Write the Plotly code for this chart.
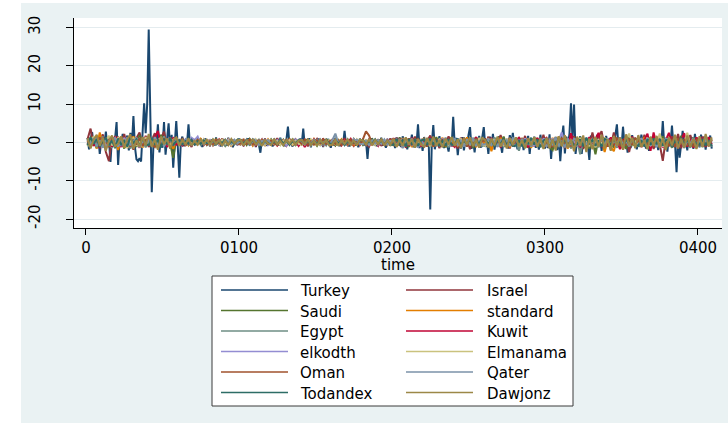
import plotly.graph_objects as go

# ---- axis text -------------------------------------------------------------
time_title = "time"
x_tick_values = [0, 100, 200, 300, 400]
x_tick_labels = ["0", "0100", "0200", "0300", "0400"]
y_tick_values = [-20, -10, 0, 10, 20, 30]
y_tick_labels = ["-20", "-10", "0", "10", "20", "30"]

series_names = ["Turkey", "Israel", "Saudi", "standard", "Egypt", "Kuwit",
                "elkodth", "Elmanama", "Oman", "Qater", "Todandex", "Dawjonz"]

# ---- Turkey: every period ----------------------------------------------------
turkey = [
    1.2, -1.8, .8, 2.7, -.5, 1.1, -.9, 1.6, -3.0, .4,
    1.9, -.6, 2.8, -1.2, .7, -5.1, 1.3, -.4, .9, 5.3,
    -5.9, 1.1, -.3, 2.2, -1.4, .6, 1.8, -2.1, 2.5, -.7,
    6.9, -1.2, -4.4, -4.9, -4.1, -5.0, 1.2, 10.2, 2.4, 10.0,
    29.5, 2.0, -13.0, -1.5, 1.8, -.8, 4.7, -2.6, .9, -1.4,
    5.3, -3.2, 1.0, 5.0, -1.6, 2.0, -6.6, .5, 5.6, -1.2,
    -9.2, .3, 1.5, -1.0, .8, -.5, 4.7, -.8, .6, -.4,
    .5, -.7, 1.1, -.3, .8, -1.2, .4, 1.0, -.6, .3,
    -1.0, .7, .2, -.8, 1.3, -.5, .6, -1.1, .9, -.2,
    .4, -.9, 1.2, -.4, .7, -1.3, .5, .1, -.7, 1.0,
    -.3, .8, -1.0, .6, -.5, 1.1, -.8, .3, -.4, .9,
    -1.2, .5, -.6, -2.7, .8, -.3, 1.0, -.9, .4, -.5,
    .7, -1.1, .9, -.2, .5, -.8, 1.2, -.4, .6, -1.0,
    .8, 4.1, -.6, .3, -1.1, .9, -.4, .6, -.8, 1.0,
    -.5, 3.6, -.9, .4, -.7, 1.1, -1.3, .5, -.3, .8,
    -.6, 1.0, -.9, .4, -1.2, .7, -.5, .9, -.2, -1.4,
    .6, -.8, 1.2, -.3, .5, -1.0, .8, -.6, 3.0, -.7,
    .4, -1.1, .9, -.3, .7, -.9, .5, -1.3, 1.0, -.4,
    .6, -.8, .3, -4.3, .9, -.5, 1.1, -.7, .4, -1.0,
    .8, -.3, 1.2, -.9, .5, -1.4, .7, -.2, 1.0, -.6,
    .9, -1.5, 1.3, -.7, .4, -1.2, 1.6, -.9, .6, -1.8,
    1.1, -.4, 2.0, -1.3, .8, -.6, 4.7, -1.5, .9, -2.2,
    1.4, -.7, .5, .3, -17.5, -.4, 4.5, -1.8, .9, -.5,
    1.6, -1.1, .7, -1.5, 1.2, -.3, -2.4, 1.0, -.8, 6.7,
    -.6, 1.2, -3.3, .8, -1.6, 1.4, -2.1, .5, -1.0, 1.9,
    4.0, -1.7, .6, -2.6, 1.3, -.9, 1.7, -1.4, .8, 4.0,
    -1.2, .5, -3.0, 1.5, -.8, 2.2, -1.9, .7, -1.1, 1.6,
    -.5, -2.7, 1.3, -1.0, .8, -1.6, 1.9, -.4, 2.5, -1.2,
    .9, -1.8, 1.4, -.6, 1.0, -2.0, .6, -1.3, 1.7, -3.0,
    1.1, -.8, 1.5, -1.4, .4, -1.9, 2.0, -.7, 1.2, -1.6,
    .8, -1.5, 2.1, -4.3, 1.0, -1.2, .6, -2.0, 1.4, -4.9,
    .9, 4.4, -2.9, 1.5, -.8, 2.3, 10.2, .5, 9.9, -3.0,
    .7, -1.1, 1.6, -3.0, .9, -1.4, 1.2, -.5, -4.6, 1.8,
    -1.0, .6, -1.7, 2.0, -.8, 1.3, -2.2, .9, -1.2, 1.7,
    -.6, 1.1, -1.9, .8, -1.0, 2.2, 4.7, -.9, .5, -1.3,
    4.1, -.7, 1.0, -2.7, .6, -1.5, 1.9, -.9, 1.2, -1.8,
    .7, -1.2, 2.0, -.6, 1.1, -1.6, .9, -2.2, 1.4, -.8,
    1.6, -1.3, .8, -2.0, 1.2, -.7, 5.6, -1.0, .9, -2.4,
    1.3, -.5, 4.4, -1.2, -.3, -7.8, 1.0, -4.0, .6, 3.0,
    -1.5, 1.1, -2.1, 1.8, -.9, 1.4, -1.7, 2.2, -.6, 1.0,
    -1.3, 2.0, -.8, 1.5, -1.9, 1.2, -.5, 1.8, -1.6,
]

# ---- the other markets: every second period -------------------------------
israel = [
    .8, 3.6, -.9, 1.4, -.3, 2.1, -2.5, -4.9, 1.2, -1.0,
    1.5, -.7, 2.2, -1.4, .5, -1.9, 1.1, 2.6, -.8, 1.7,
    -1.2, .6, 2.4, -1.6, 1.0, 2.8, -.9, .4, -1.5, 1.3,
    -.6, 1.1, -.9, .5, -1.2, .8, -.4, 1.0, -.7, .3,
    .6, -.8, .4, -.5, 1.0, -.3, .7, -1.0, .5, -.2,
    -.6, .9, -.4, .3, -.8, .6, -.2, .8, -.9, .4,
    .5, -.7, 1.1, -.4, .2, -.9, .6, -.3, .8, -.6,
    -.3, .7, -1.0, .5, -.2, .9, -.6, 1.0, -.5, .3,
    .4, -.8, .6, -.3, 1.1, -.7, .2, -.9, .5, -.4,
    .7, -.2, -1.1, .6, -.5, .8, -.9, .3, -.6, 1.0,
    -.8, 1.2, -.5, .9, -1.4, .6, -.3, 1.5, -1.0, .7,
    -1.3, .4, 1.8, -.9, .6, -1.5, 1.1, -.4, 1.6, -1.1,
    .8, -1.6, 1.2, -.5, .9, -1.8, .5, 1.4, -1.2, .6,
    -.9, 1.5, -1.3, .7, -.4, 1.9, -1.1, .8, -1.6, 1.0,
    -.5, 1.3, -.8, 1.7, -1.4, .6, -1.0, 1.2, -.7, 2.0,
    -1.2, .9, -1.8, 1.4, -.6, 2.1, -1.5, .8, -1.1, 1.6,
    -.9, 1.2, -1.7, .7, -1.3, 2.6, -.8, 1.5, 2.9, -1.4,
    .6, -1.0, 2.6, -.7, 1.3, -1.9, .9, -2.5, 1.2, -.8,
    1.4, -.6, 2.0, -1.3, .8, -1.7, 1.1, -.5, -4.8, .9,
    -1.0, 1.6, -.4, 2.2, -1.5, .7, -1.1, 1.9, -.9, 1.3,
    -.6, 1.5, -1.2, .8, 1.1,
]
saudi = [
    -.6, 1.2, .4, -1.5, 1.8, -.3, .9, -1.1, .5, 1.4,
    -.9, .3, -1.6, 1.0, -.4, .7, -1.2, 1.9, -.5, .2,
    1.1, -.8, .6, -1.3, 2.0, -.4, .8, -.2, -4.0, .9,
    -.5, .7, -.3, .9, -.6, .2, .8, -.4, .5, -.7,
    .3, -.6, .8, -.2, .5, -.9, .4, .6, -.3, .7,
    -.4, .5, -.7, .9, -.2, .4, -.8, .3, .6, -.5,
    .8, -.3, .4, -.6, .7, -.5, .9, -.2, -.7, .5,
    -.6, .4, .8, -.5, .3, -.9, .6, -.4, .7, -.3,
    .5, -.8, .3, .7, -.4, .6, -.6, .9, -.2, .4,
    -.7, .5, -.3, .8, -.6, .2, .7, -.5, .4, -.9,
    1.0, -.6, 1.3, -.9, .4, -1.2, .8, -.5, 1.1, -.7,
    .6, -1.1, .9, -.4, 1.4, -.8, .5, -1.3, .7, 1.2,
    -1.0, .5, -.7, 1.2, -.3, .9, -1.4, .6, -.5, 1.0,
    .8, -1.2, .4, -.9, 1.1, -.6, 1.5, -1.0, .3, -.7,
    1.2, -.5, .9, -1.4, .6, -.8, 1.3, -1.1, .7, -.4,
    .9, -1.3, -2.0, 1.1, -.7, 1.6, -1.0, .5, -1.5, 1.2,
    -.8, 1.4, -.5, .9, -1.6, .7, -3.1, 1.0, -.6, 1.3,
    -1.1, .6, -1.4, 1.2, -.4, .8, -1.7, 1.5, -.9, .4,
    1.1, -.7, .5, -1.5, 1.3, -.3, .9, -1.2, 1.6, -.8,
    .6, -1.4, 1.0, -.5, 1.7, -1.1, .4, -.9, 1.3, -.6,
    .8, -1.2, 1.1, -.4, .6,
]
standard = [
    .5, -.9, 1.4, -1.6, 2.6, -.4, 1.1, -.7, .3, 1.2,
    -2.0, .8, -1.3, .4, -.9, 1.6, -.6, 1.0, -1.4, .7,
    1.5, -.5, .9, -1.1, .4, 1.3, -.8, .6, -1.7, .3,
    .7, -.4, .5, -.8, .3, .6, -.5, .9, -.2, .4,
    -.5, .3, .7, -.6, .4, -.2, .8, -.7, .3, -.4,
    .6, -.5, .2, .7, -.8, .4, -.3, .5, -.6, .8,
    -.3, .6, -.7, .4, .2, -.5, .8, -.6, .3, -.2,
    .5, -.8, .3, -.4, .9, -.3, .4, -.7, .6, .2,
    -.6, .4, -.2, .8, -.5, .3, .6, -.9, .4, -.3,
    .7, -.4, .5, -.6, .3, -.8, .5, .2, -.7, .6,
    -.9, .7, -.4, 1.1, -.8, .5, -1.2, .9, -.3, .6,
    1.0, -.7, .4, -1.1, .8, -.5, 1.2, -.9, .3, -.6,
    .5, -1.0, .9, -.4, 1.3, -.8, .6, -1.2, .4, .9,
    -.7, 1.1, -2.3, .6, -.9, 1.2, -.5, .8, -1.3, .4,
    .9, -.6, 1.1, -1.0, .5, -1.4, .7, -.3, 1.0, -.8,
    .6, -1.3, 1.2, -.7, 1.5, -.9, .4, -1.6, .8, -.5,
    1.1, -.8, .6, -1.5, .9, -.4, 1.3, -1.0, .5, -2.5,
    .7, -1.2, -2.3, .9, -1.6, .5, 1.2, -.8, .4, -1.1,
    .9, -.5, 1.4, -1.3, .6, -.9, 1.1, -.4, .8, -1.5,
    1.2, -.7, .5, -1.1, .9, -.6, 1.3, -1.0, .4, -1.5,
    .6, -.9, 1.0, -.5, .8,
]
egypt = [
    1.0, -.5, .7, -1.2, .4, 1.5, -.8, .3, -1.4, .9,
    -.7, 1.3, -.4, .8, -1.6, .5, 1.1, -.9, .6, -1.3,
    .4, 1.0, -1.1, .7, -.5, 1.6, -1.0, .3, .8, -.6,
    .5, -.3, .8, -.6, .4, -.2, .6, -.7, .3, .5,
    -.4, .7, -.5, .3, .6, -.8, .2, .5, -.6, .4,
    .3, -.6, .8, -.4, .5, -.3, .7, -.9, .4, -.2,
    -.5, .8, -.3, .6, -.7, .4, -.4, .9, -.6, .3,
    .6, -.4, .5, -.8, .3, .7, -.5, .2, -.8, .6,
    -.3, .5, -.7, .4, -.2, .8, -.6, .5, -.4, .7,
    .4, -.7, .6, -.3, .8, -.5, .3, -.6, .9, -.4,
    .7, -1.0, .5, -.6, 1.2, -.8, .4, -.3, .9, -1.1,
    -.5, .8, -1.2, .6, -.4, 1.0, -.9, .5, -1.3, .7,
    .9, -.4, .6, -1.1, .8, -.6, 1.2, -.7, .3, -1.0,
    -.6, .9, -.8, 1.3, -.4, .7, -1.2, .5, -.9, 1.1,
    .5, -2.2, .8, -.5, 1.0, -1.1, .4, -.7, 1.2, -.6,
    -.9, 1.1, -.6, 1.4, -1.2, .7, -.4, 1.0, -1.5, .6,
    .8, -3.1, .5, -.9, 1.2, -.7, .6, -1.3, .9, -.5,
    1.0, -.8, .4, -1.4, .7, -.6, 1.3, -1.0, .5, -.9,
    -.7, 1.2, -1.0, .6, -.5, 1.4, -1.1, .8, -.4, 1.0,
    .5, -1.2, .9, -.6, 1.1, -.8, .6, -1.4, 1.0, -.3,
    -.8, 1.0, -.5, .9, -1.1,
]
kuwit = [
    -.4, 1.1, -.9, .6, -1.5, 1.3, -.2, .8, -1.1, 1.6,
    .5, -1.2, .9, -.6, 1.7, -1.0, .4, -1.4, .7, 1.2,
    -.8, .6, 1.3, 3.0, -.5, .9, -1.2, .4, 1.1, -.7,
    .4, -.8, .5, -.3, .7, -.5, .2, .6, -.4, .3,
    -.7, .5, -.2, .8, -.4, .3, -.6, .7, -.3, .5,
    .4, -.7, .6, -.3, .5, -.8, .3, -.5, .7, -.2,
    -.4, .6, -.8, .3, .5, -.6, .7, -.3, .4, -.9,
    .3, -1.2, .6, -.4, .8, -.5, .3, -.7, .5, -.6,
    .7, -.3, .4, -.8, .6, -.2, .9, -.5, .3, -.7,
    .5, -.6, .8, -.4, .3, -.9, .6, -.3, .7, -.5,
    1.1, -.6, .9, -1.3, .5, -.8, 1.2, -.4, .7, -1.0,
    .4, -.9, 1.3, -.6, .8, -1.1, .5, -.7, 1.0, -.4,
    -1.2, .7, -.5, 1.1, -.9, .6, -.3, 1.3, -1.0, .5,
    .8, -.6, 1.2, -1.0, .4, -1.3, .9, -.5, 1.1, -.8,
    -.7, 1.4, -.9, .5, -1.2, .8, -.4, 1.1, -.9, .6,
    1.2, -.8, .5, -1.4, 1.0, -.6, 1.5, -1.1, 2.4, -.9,
    .6, -1.3, 1.1, -.7, 1.4, -1.0, .8, 2.5, -1.2, .7,
    -1.0, 1.3, -.6, 1.0, -1.8, .5, 1.2, -.9, 1.5, -.7,
    .9, -1.2, .6, 2.3, -2.2, 2.6, -.8, 1.1, -1.3, .7,
    2.5, -.9, 1.2, -1.5, .6, 2.4, -1.1, .8, -1.4, 1.3,
    -.7, 1.1, -.9, 1.4, -.5,
]
elkodth = [
    .6, -.8, .3, 1.0, -.5, .7, -1.1, .4, .9, -.6,
    .3, -.9, 1.2, -.4, .6, -.7, .2, 1.0, -.5, .8,
    -.6, 1.1, -.3, .5, -1.0, .7, -.4, .9, -.8, .4,
    .5, -.4, .7, -.2, 1.2, .6, 1.5, -.3, .8, -.5,
    .6, -.3, .5, -.7, .4, -.2, .7, -.5, .3, -.6,
    .4, -.5, .3, -.6, .8, -.3, .5, -.4, .6, -.7,
    .3, -.4, .6, -.5, .2, -.8, .5, -.3, .7, -.4,
    .6, -.5, .3, -.7, .4, -.2, .8, -.6, .3, -.5,
    -.4, .7, -.3, .5, -.6, .4, -.5, .8, -.3, .6,
    .5, -.4, .6, -.3, .4, -.7, .3, -.5, .7, -.2,
    -.6, .8, -.4, .7, -.9, .5, -.7, .4, -1.3, .6,
    .8, -.5, .6, -.9, .4, -.7, 1.0, -.3, .6, -.8,
    -.5, .9, -.7, .4, -.6, 1.1, -.4, .7, -.9, .5,
    .6, -.8, .9, -.4, .7, -1.0, .5, -.6, .8, -.4,
    -.7, .5, -.4, 1.0, -.6, .8, -.9, .4, -.5, .9,
    .7, -.6, 1.0, -.8, .5, 2.6, -.5, .9, -.7, .4,
    -.8, .6, -.5, 1.1, -.9, .7, -.4, .8, -1.0, .5,
    .9, -.7, .4, -1.0, .6, -.5, 1.1, -.8, .7, -.4,
    -.6, 1.0, -.8, .5, -.7, .9, -.5, .6, -1.1, .8,
    .7, -.5, .9, -.9, .4, -.6, 1.0, -.7, .5, -.8,
    .6, -.4, .8, -.7, .5,
]
elmanama = [
    -1.0, .7, 1.4, -.6, .9, -1.3, .5, 1.7, -.8, .3,
    1.2, -.5, .8, -1.5, .4, 1.1, -.9, .6, -1.2, 1.4,
    -.4, .9, -1.3, .6, 1.2, -.7, .3, -1.0, .7, 1.1,
    -.6, .4, -.3, .7, -.5, .3, .6, -.4, .8, -.3,
    .5, -.6, .3, -.4, .7, -.3, .5, -.8, .4, .2,
    -.5, .7, -.3, .4, -.6, .8, -.4, .3, -.7, .5,
    .6, -.4, .3, -.7, .5, -.2, .6, -.5, .4, -.3,
    -.6, .5, -.3, .8, -.4, .3, -.7, .5, -.2, .6,
    .4, -.5, .7, -.3, .4, -.6, .3, -.4, .8, -.5,
    -.3, .6, -.5, .4, -.7, .5, -.2, .7, -.4, .3,
    .6, -.9, .4, -.7, 1.0, -.5, .8, -1.1, .3, -.6,
    -.8, .5, -1.0, .9, -.4, .7, -.6, 1.1, -.5, .4,
    .7, -.6, 1.0, -.8, .5, -.4, .9, -.7, 1.2, -.5,
    -.9, .6, -.5, .8, -1.1, .4, -.7, 1.0, -.6, .9,
    .6, -.8, .4, -1.0, .7, -.5, 1.1, -.6, .4, -.9,
    1.0, -.7, .5, -1.2, .8, -.4, 1.3, -.9, .6, -1.1,
    -.6, 1.2, -.8, .5, -1.0, .9, -1.3, .6, -.4, 1.1,
    .7, -.9, 1.3, -.6, .8, -1.2, .5, 2.3, -.7, .4,
    -1.1, .8, -.5, 1.2, -.9, .6, -.7, 2.3, -1.0, .5,
    .9, -.6, 1.1, -1.2, .7, -.4, 2.5, -.8, .6, -1.0,
    .5, -.7, 1.2, -.6, .9,
]
oman = [
    .4, -1.0, .8, -.5, 1.3, -.8, .6, -1.2, 1.0, -.4,
    -.8, 1.4, -.3, .9, -1.1, .5, -.6, 1.2, -1.0, .6,
    .9, -.4, -1.2, .8, -.6, 1.0, -.5, 1.3, -.9, .5,
    -.4, .6, -.7, .3, .5, -.4, .7, -.2, .4, -.6,
    .3, -.5, .6, -.2, -.7, .5, -.4, .3, .6, -.5,
    -.3, .6, -.4, .7, -.5, .3, .5, -.6, .2, -.4,
    .5, -.3, -.6, .4, -.5, .7, -.3, .4, -.6, .5,
    -.4, .7, -.5, .3, -.6, .5, -.3, .8, -.4, .3,
    .6, -.4, .5, -.7, .3, -.5, .7, -.3, .5, -.6,
    .8, 2.9, 1.8, -.3, .6, -.5, .4, -.7, .5, -.3,
    -.5, .8, -.9, .5, -.4, 1.0, -.7, .6, -1.0, .4,
    .7, -.6, .9, -1.1, .5, -.4, .8, -.9, .6, -.5,
    -.8, .6, -.4, .9, -1.1, .7, -.5, 1.0, -.6, .4,
    .5, -.9, .7, -.5, 1.0, -.8, .4, -1.2, .6, -.7,
    .8, -.4, 1.1, -.7, .5, -.9, .6, -.4, 1.0, -1.1,
    -.5, .9, -1.1, .6, -.8, 1.2, -.6, .4, -1.0, .8,
    .7, -.5, 1.1, -.9, .6, -1.2, .5, -.7, 1.3, -.6,
    -.9, .6, -.4, 1.2, -1.0, .5, -.8, 1.0, -.6, 1.1,
    .5, -1.0, .8, -.6, 1.1, -.4, .9, -1.3, .6, -.5,
    -.8, .7, -1.2, 1.0, -.5, .8, -.9, .4, -1.1, .7,
    .9, -.6, .5, -1.0, .7,
]
qater = [
    .7, -.3, 1.1, -.9, .5, -1.4, 1.0, -.6, .4, 1.2,
    -1.1, .6, -.5, 1.3, -.8, .4, 1.0, -1.3, .7, -.4,
    .5, -.9, 1.4, -.6, .8, -1.1, .6, .9, -.5, .7,
    .4, -.5, .3, .8, -.6, .4, -.3, .6, -.5, .2,
    -.6, .4, -.3, .5, -.8, .6, .3, -.4, .7, -.3,
    .5, -.4, .7, -.6, .3, .5, -.7, .4, -.3, .6,
    -.4, .5, -.3, .8, -.6, .3, -.5, .6, -.4, .7,
    .3, -.6, .5, -.3, .7, -.5, .4, -.2, .6, -.8,
    .6, 2.3, -.4, .5, -.7, .3, -.6, .4, .7, -.4,
    -.5, .4, -.7, .5, -.3, .6, -.4, .8, -.6, .3,
    .5, -.7, .9, -1.5, .6, -.4, 1.0, -.8, -1.2, .7,
    -.6, 1.0, -.5, .8, -1.0, .4, -.7, 1.2, -.6, .5,
    .9, -.7, .5, -1.0, .6, -.5, 1.1, -.9, .4, -.6,
    -.5, 1.0, -.7, .4, -1.2, .8, -.4, .6, -.9, 1.1,
    .7, -.5, .9, -.8, .4, -1.1, .6, -.7, .9, -.4,
    -1.0, .6, -.5, 1.2, -.9, .4, -1.3, .8, -.6, 1.0,
    .5, -.9, 1.1, -.6, .7, -1.0, .4, -.8, 1.2, -.5,
    .8, -1.1, .6, -.5, 1.3, -.7, .4, -1.0, .9, -.6,
    -.7, .9, -.4, 1.1, -.8, .5, -1.2, .7, -.5, 1.0,
    .6, -.8, 1.0, -.6, .9, -1.3, .5, -.4, 1.2, -.9,
    .4, -.8, .7, -.5, 1.0,
]
todandex = [
    -.8, 1.3, -.4, .9, -1.2, .6, 1.1, -.7, .5, -1.5,
    1.0, -.6, .4, -1.1, 1.5, -.3, .8, -.9, 1.2, -.5,
    -.7, 1.2, -.4, .6, -1.3, .9, -.5, 1.1, -.6, .3,
    .6, -.5, .4, -.3, .7, -.6, .3, -.4, .5, -.2,
    -.3, .6, -.5, .4, -.2, .7, -.6, .3, -.4, .6,
    .4, -.3, .6, -.5, .7, -.4, .3, -.6, .5, -.3,
    -.6, .4, -.5, .7, -.3, .5, -.7, .4, -.2, .6,
    .5, -.3, .4, -.6, .3, -.4, .6, -.5, .7, -.3,
    -.4, .6, -.3, .5, -.7, .4, -.5, .3, -.6, .5,
    .6, -.5, .3, -.4, .7, -.3, .5, -.6, .4, -.5,
    -.7, .9, -.5, .6, -1.0, .8, -.4, .7, -.9, .5,
    .8, -.7, 1.1, -.5, .6, -1.0, .4, -.8, .9, -.6,
    -.6, 1.0, -.8, .5, -.4, .9, -1.0, .6, -.5, 1.1,
    .7, -.5, .8, -1.1, .6, -.4, 1.0, -.7, .5, -.9,
    -.8, .6, -1.0, .7, -.5, 1.2, -.6, .8, -1.3, .5,
    .9, -1.2, .6, -.7, 1.1, -.5, .8, -1.0, .5, -.8,
    -.6, .8, -1.0, 1.2, -.5, .7, -.9, .5, -1.1, .9,
    .6, -.8, 1.0, -.6, .5, -1.3, .9, -.4, 1.1, -.7,
    -.9, .5, -1.1, .8, -.6, 1.0, -.5, .9, -.8, .6,
    .7, -1.0, .5, -.7, 1.2, -.5, .8, -1.1, .6, -.4,
    -.6, .9, -.8, .6, -.9,
]
dawjonz = [
    1.1, -1.6, .7, 2.0, -.9, 1.3, -2.2, .5, 1.8, -1.0,
    -.4, 1.6, -1.3, .9, 2.1, -1.7, .6, -1.1, 1.4, -.8,
    2.2, -1.2, .8, -1.9, 1.5, -.5, 1.0, -1.6, .6, 1.3,
    -.9, .7, -.5, 1.0, -.8, .4, -.6, .9, -.4, .7,
    -.6, .8, -.4, .6, -.9, .5, -.7, .9, -.3, .5,
    .7, -.8, .5, -.4, .9, -.6, .4, -.9, .6, -.3,
    -.7, .9, -.5, .4, -.8, .6, -.3, .8, -.6, .5,
    .6, -.5, .8, -.7, .4, -.9, .7, -.4, .6, -.8,
    -.5, .7, -.9, .6, -.4, .8, -.6, .5, -.8, .7,
    .5, -.6, .9, -.7, .6, -.4, .8, -.8, .5, -.6,
    1.0, -1.2, .7, -.9, 1.3, -.6, .9, -1.4, .8, -.5,
    -1.1, 1.2, -.7, 1.5, -.9, .6, -1.3, 1.0, -.5, 1.4,
    -.9, .8, -1.5, 1.1, -.6, 1.3, -1.0, .7, -1.4, 1.2,
    .6, -1.3, 1.0, -.8, 1.5, -1.1, .7, -1.6, 1.2, -.7,
    1.3, -1.0, .6, -1.5, 1.1, -.8, 1.4, -1.2, .9, -1.7,
    1.2, -1.5, .8, -2.1, 1.6, -1.0, 1.9, -1.4, .7, -2.3,
    1.5, -.9, 1.8, -2.5, 1.0, -1.8, 1.4, -1.1, 2.0, -1.6,
    .8, -2.2, 1.7, -1.0, 1.3, -1.9, 2.1, -.8, 1.2, -1.5,
    1.9, -1.2, .6, -1.8, 1.5, -.9, 1.7, -1.4, 1.1, -2.0,
    1.4, -.8, 2.0, -1.6, 1.0, -1.3, 1.8, -1.1, .9, -1.7,
    1.6, -1.2, 2.2, -1.0, 1.3,
]

series_values = [turkey, israel, saudi, standard, egypt, kuwit,
                 elkodth, elmanama, oman, qater, todandex, dawjonz]
series_colors = ["#1a476f", "#90353b", "#55752f", "#e37e00", "#6e8e84", "#c10534",
                 "#938dd2", "#cac27e", "#a0522d", "#7b92a8", "#2d6d66", "#9c8847"]
series_step = [1] + [2] * 11  # Turkey is daily, the rest every second period

# ---- page geometry (pixels) -----------------------------------------------
W, H = 728, 423
ML, MR, MT, MB = 74, 6, 18, 195
PW, PH = W - ML - MR, H - MT - MB
FONT = "DejaVu Sans"
BG = "#eaf2f3"


def fx(px):
    return (px - ML) / PW


def fy(py):
    return (H - MB - py) / PH


fig = go.Figure()
for name, values, color, step in zip(series_names, series_values, series_colors, series_step):
    periods = list(range(1, step * len(values) + 1, step))
    fig.add_trace(go.Scatter(
        x=periods, y=values, name=name, mode="lines",
        line=dict(color=color, width=2), showlegend=False,
        hoverinfo="skip",
    ))

shapes = [
    # white margin strips outside the graph region
    dict(type="rect", xref="paper", yref="paper", x0=fx(0), x1=fx(21), y0=fy(0), y1=fy(H),
         fillcolor="white", line=dict(width=0), layer="below"),
    dict(type="rect", xref="paper", yref="paper", x0=fx(0), x1=fx(W), y0=fy(0), y1=fy(3),
         fillcolor="white", line=dict(width=0), layer="below"),
    # legend frame
    dict(type="rect", xref="paper", yref="paper", x0=fx(212), x1=fx(573), y0=fy(406), y1=fy(276),
         fillcolor="white", line=dict(color="#3a3a3a", width=1)),
]

# x-axis title, set just under the tick labels
annotations = [dict(xref="paper", yref="paper", x=0.5, y=fy(254), text=time_title,
                    showarrow=False, xanchor="center", yanchor="top",
                    font=dict(family=FONT, size=15, color="black"))]

line_x = [221, 406]
line_len = 67
text_x = [298, 485]
row_y0, row_gap = 290, 20.5
for i, (name, color) in enumerate(zip(series_names, series_colors)):
    row, col = divmod(i, 2)
    yy = row_y0 + row * row_gap
    shapes.append(dict(type="line", xref="paper", yref="paper",
                       x0=fx(line_x[col]), x1=fx(line_x[col] + line_len),
                       y0=fy(yy), y1=fy(yy), line=dict(color=color, width=1.5)))
    annotations.append(dict(xref="paper", yref="paper", x=fx(text_x[col]), y=fy(yy + 1),
                            text=name, showarrow=False, xanchor="left", yanchor="middle",
                            font=dict(family=FONT, size=15, color="black")))

fig.update_layout(
    width=W, height=H,
    margin=dict(l=ML, r=MR, t=MT, b=MB, pad=0),
    paper_bgcolor=BG, plot_bgcolor="white",
    shapes=shapes, annotations=annotations,
    font=dict(family=FONT, size=15, color="black"),
    xaxis=dict(
        range=[-7.84, 415.7], tickvals=x_tick_values, ticktext=x_tick_labels,
        ticks="outside", ticklen=6, tickwidth=1, tickcolor="black",
        showline=True, linecolor="black", linewidth=1,
        showgrid=False, zeroline=False,
        tickfont=dict(family=FONT, size=15, color="black"),
    ),
    yaxis=dict(
        range=[-22.35, 32.48], tickvals=y_tick_values, ticktext=y_tick_labels,
        tickangle=-90, ticks="outside", ticklen=7, tickwidth=1, tickcolor="black",
        ticklabelstandoff=20,
        showline=True, linecolor="black", linewidth=1,
        showgrid=True, gridcolor="#e4ecef", gridwidth=1.2, zeroline=False,
        tickfont=dict(family=FONT, size=15, color="black"),
    ),
)

fig.write_html("out.html")
